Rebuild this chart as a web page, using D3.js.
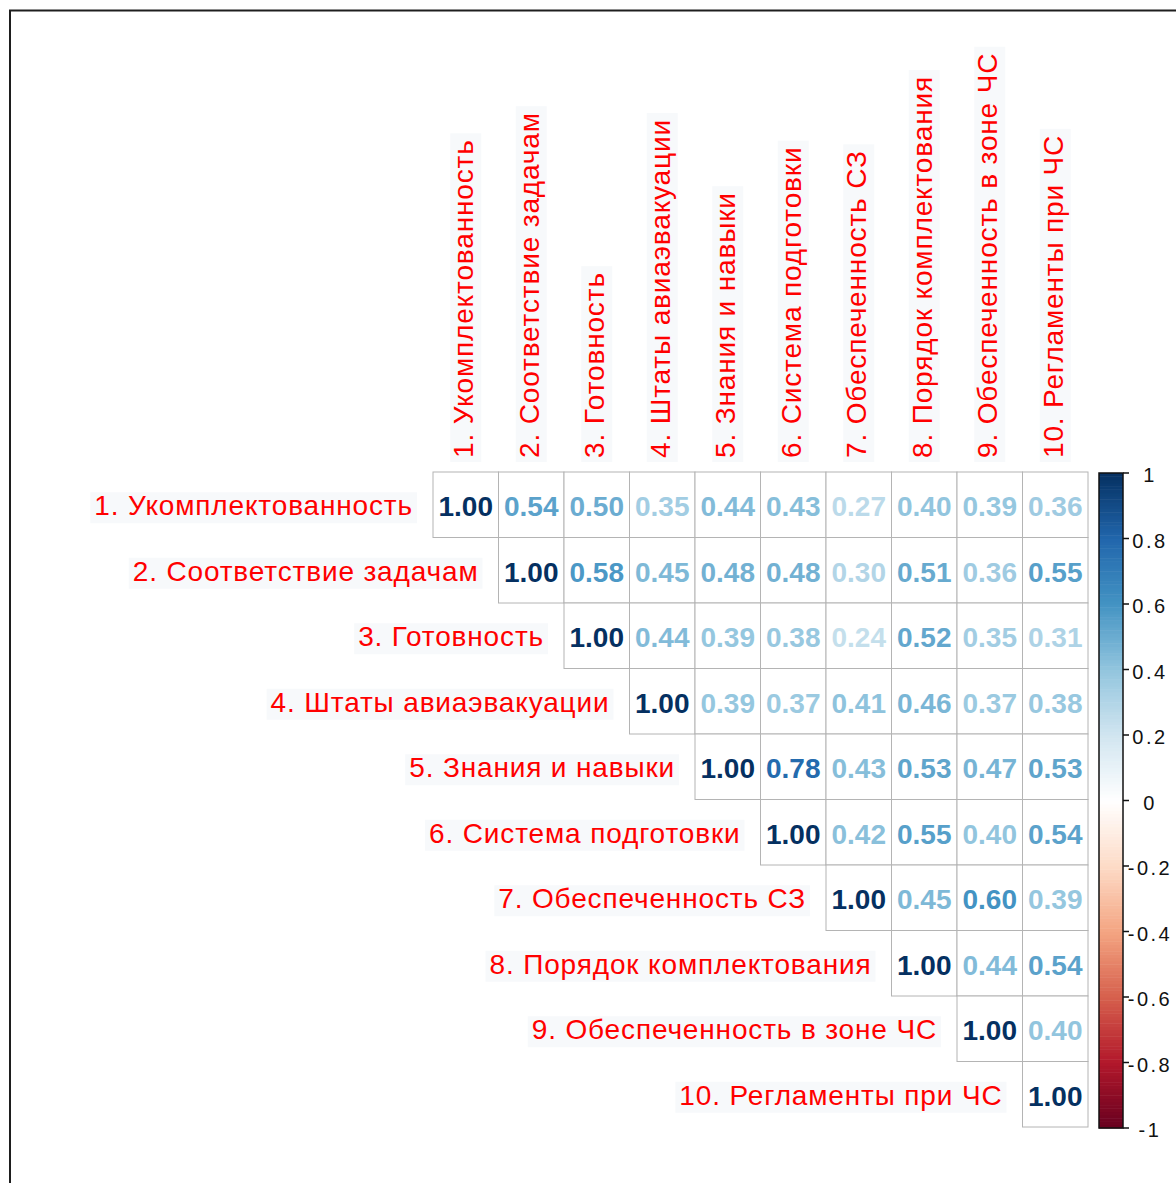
<!DOCTYPE html>
<html>
<head>
<meta charset="utf-8">
<script src="https://cdn.jsdelivr.net/npm/d3@7"></script>
<style>
  body { margin: 0; background: #fff; }
  svg { display: block; }
</style>
</head>
<body>
<svg id="chart" width="1176" height="1183"></svg>
<script>
// Variable names (rows and columns of the correlation matrix)
const variables = [
  "1. Укомплектованность",
  "2. Соответствие задачам",
  "3. Готовность",
  "4. Штаты авиаэвакуации",
  "5. Знания и навыки",
  "6. Система подготовки",
  "7. Обеспеченность СЗ",
  "8. Порядок комплектования",
  "9. Обеспеченность в зоне ЧС",
  "10. Регламенты при ЧС"
];

// Upper triangle of the correlation matrix, one array per row (from the diagonal rightwards)
const row1  = [1.00, 0.54, 0.50, 0.35, 0.44, 0.43, 0.27, 0.40, 0.39, 0.36];
const row2  = [1.00, 0.58, 0.45, 0.48, 0.48, 0.30, 0.51, 0.36, 0.55];
const row3  = [1.00, 0.44, 0.39, 0.38, 0.24, 0.52, 0.35, 0.31];
const row4  = [1.00, 0.39, 0.37, 0.41, 0.46, 0.37, 0.38];
const row5  = [1.00, 0.78, 0.43, 0.53, 0.47, 0.53];
const row6  = [1.00, 0.42, 0.55, 0.40, 0.54];
const row7  = [1.00, 0.45, 0.60, 0.39];
const row8  = [1.00, 0.44, 0.54];
const row9  = [1.00, 0.40];
const row10 = [1.00];

// Colour legend ticks
const legendTicks  = [-1, -0.8, -0.6, -0.4, -0.2, 0, 0.2, 0.4, 0.6, 0.8, 1];
const legendLabels = ["-1", "-0.8", "-0.6", "-0.4", "-0.2", "0", "0.2", "0.4", "0.6", "0.8", "1"];

// Diverging red-blue palette anchored at the legend ticks
const palette = ["#67001F", "#B2182B", "#D6604D", "#F4A582", "#FDDBC7", "#FFFFFF",
                 "#D1E5F0", "#92C5DE", "#4393C3", "#2166AC", "#053061"];

const rows = [row1, row2, row3, row4, row5, row6, row7, row8, row9, row10];
const cells = [];
rows.forEach((r, i) => r.forEach((v, k) => cells.push({ i, j: i + k, v })));

const svg = d3.select("#chart");

const n = variables.length;
const gridLeft = 433, gridTop = 472, cell = 65.5;

const x = d3.scaleBand().domain(d3.range(n)).range([gridLeft, gridLeft + n * cell]).padding(0);
const y = d3.scaleBand().domain(d3.range(n)).range([gridTop, gridTop + n * cell]).padding(0);
const color = d3.scaleLinear().domain(legendTicks).range(palette).interpolate(d3.interpolateRgb);

// Frame around the figure
svg.append("rect")
  .attr("x", 10).attr("y", 10.5)
  .attr("width", 1400).attr("height", 1400)
  .attr("fill", "none").attr("stroke", "#1e1e1e").attr("stroke-width", 2);

const labelFont = "'Liberation Sans', Arial, sans-serif";
const labelBg = svg.append("g");

// Row labels (right-aligned next to the diagonal cell)
const rowLab = svg.append("g");
rowLab.selectAll("text").data(variables).join("text")
  .attr("x", (d, i) => x(i) - 20)
  .attr("y", (d, i) => y(i) + y.bandwidth() / 2 + 1)
  .attr("text-anchor", "end")
  .attr("dominant-baseline", "central")
  .attr("font-family", labelFont)
  .attr("font-size", 28)
  .attr("letter-spacing", 0.85)
  .attr("fill", "#ff0000")
  .text(d => d);

// Column labels (rotated, above the grid)
const colLab = svg.append("g");
colLab.selectAll("text").data(variables).join("text")
  .attr("transform", (d, i) => `translate(${x(i) + x.bandwidth() / 2 - 2},${gridTop - 14}) rotate(-90)`)
  .attr("text-anchor", "start")
  .attr("dominant-baseline", "central")
  .attr("font-family", labelFont)
  .attr("font-size", 28)
  .attr("letter-spacing", 0.85)
  .attr("fill", "#ff0000")
  .text(d => d);

// Pale backing boxes behind the labels
rowLab.selectAll("text").each(function () {
  const b = this.getBBox();
  labelBg.append("rect")
    .attr("x", b.x - 4).attr("y", b.y + 2).attr("width", b.width + 8).attr("height", b.height)
    .attr("fill", "#f7f9fb");
});
colLab.selectAll("text").each(function (d, i) {
  const b = this.getBBox();
  const cx = x(i) + x.bandwidth() / 2 - 2, cy = gridTop - 14;
  // rotated by -90: local (bx, by) -> (cx + by, cy - bx)
  labelBg.append("rect")
    .attr("x", cx + b.y + 2).attr("y", cy - b.x - b.width - 6)
    .attr("width", b.height).attr("height", b.width + 10)
    .attr("fill", "#f7f9fb");
});

// Grid cells of the upper triangle
svg.append("g").selectAll("rect").data(cells).join("rect")
  .attr("x", d => x(d.j)).attr("y", d => y(d.i))
  .attr("width", x.bandwidth()).attr("height", y.bandwidth())
  .attr("fill", "#fff").attr("stroke", "#b4b4b4").attr("stroke-width", 1);

// Coefficients drawn as coloured numbers
svg.append("g").selectAll("text").data(cells).join("text")
  .attr("x", d => x(d.j) + x.bandwidth() / 2)
  .attr("y", d => y(d.i) + y.bandwidth() / 2 + 2)
  .attr("text-anchor", "middle")
  .attr("dominant-baseline", "central")
  .attr("font-family", labelFont)
  .attr("font-size", 28)
  .attr("font-weight", "bold")
  .attr("fill", d => color(d.v))
  .text(d => d.v.toFixed(2));

// Colour legend
const barX = 1099, barW = 24;
const ly = d3.scaleLinear().domain([-1, 1]).range([1128, 473]);
const steps = d3.range(-1, 1, 0.01);
const legend = svg.append("g");
legend.selectAll("rect").data(steps).join("rect")
  .attr("x", barX).attr("width", barW)
  .attr("y", d => ly(d + 0.01))
  .attr("height", d => ly(d) - ly(d + 0.01) + 0.5)
  .attr("fill", d => color(d + 0.005));
legend.append("rect")
  .attr("x", barX).attr("y", ly(1)).attr("width", barW).attr("height", ly(-1) - ly(1))
  .attr("fill", "none").attr("stroke", "#111").attr("stroke-width", 1.5);
legend.selectAll("line").data(legendTicks).join("line")
  .attr("x1", barX + barW).attr("x2", barX + barW + 6)
  .attr("y1", d => ly(d)).attr("y2", d => ly(d))
  .attr("stroke", "#111").attr("stroke-width", 1.5);
legend.selectAll("text").data(legendTicks).join("text")
  .attr("x", 1150)
  .attr("y", d => ly(d) + 2)
  .attr("text-anchor", "middle")
  .attr("dominant-baseline", "central")
  .attr("font-family", labelFont)
  .attr("font-size", 20)
  .attr("letter-spacing", 2.5)
  .attr("fill", "#111")
  .text((d, i) => legendLabels[i]);
</script>
</body>
</html>
